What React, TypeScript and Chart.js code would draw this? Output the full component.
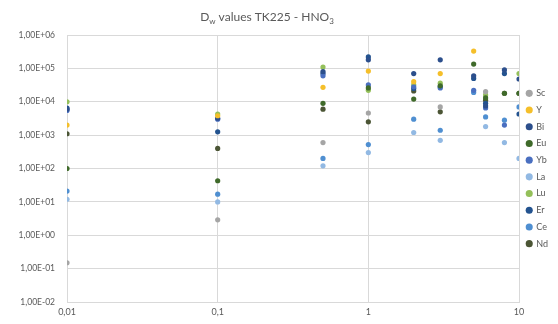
import React, { useEffect, useRef } from "react";
import { Chart, registerables } from "chart.js";

Chart.register(...registerables);

const xValues = [0.01, 0.1, 0.5, 1, 2, 3, 5, 6, 8, 10];

const seriesNames = ["Sc", "Y", "Bi", "Eu", "Yb", "La", "Lu", "Er", "Ce", "Nd"];
const seriesColors = ["#a5a5a5", "#f5bf2a", "#2c4f8c", "#3f6a2a", "#4a6fc0", "#92b9e3", "#94c05a", "#23538f", "#4f8fd1", "#4b5535"];

const scVals = [0.15, 2.9, 600, 4600, null, 7000, null, 20000, null, null];
const yVals = [2000, 3800, 27000, 83000, 40000, 70000, 330000, null, null, null];
const biVals = [6000, 3200, 80000, 180000, 70000, 180000, 60000, 7500, 90000, 48000];
const euVals = [100, 43, 9000, 26000, 12000, 30000, 135000, 13000, 18000, 18000];
const ybVals = [5500, 3000, 60000, 32000, 28000, 26000, 22000, 6500, 2000, null];
const laVals = [12, 10, 120, 300, 1200, 700, null, 1800, 600, 200];
const luVals = [10000, 4300, 110000, 22000, 32000, 36000, null, 16000, null, 70000];
const erVals = [6500, 1260, 70000, 220000, 25000, 28000, 50000, 9000, 70000, 4300];
const ceVals = [21, 17, 200, 520, 3000, 1400, 19000, 3500, 2800, 7000];
const ndVals = [1100, 400, 6000, 2500, 21000, 5000, null, 11000, 18000, 18000];

const allSeries = [scVals, yVals, biVals, euVals, ybVals, laVals, luVals, erVals, ceVals, ndVals];

const xTicks = [0.01, 0.1, 1, 10];
const yTicks = [1e-2, 1e-1, 1, 1e1, 1e2, 1e3, 1e4, 1e5, 1e6];

const FONT = "Lato, 'Open Sans', sans-serif";
const TEXT = "#595959";

function fmtExp(v: number): string {
  const e = Math.round(Math.log10(v));
  const sign = e < 0 ? "-" : "+";
  const a = Math.abs(e);
  return "1,00E" + sign + (a < 10 ? "0" + a : "" + a);
}

function fmtX(v: number): string {
  return String(v).replace(".", ",");
}

const titlePlugin = {
  id: "subTitle",
  afterDraw(chart: any) {
    const ctx = chart.ctx;
    const parts: [string, boolean][] = [
      ["D", false],
      ["w", true],
      [" values TK225 - HNO", false],
      ["3", true],
    ];
    const big = "12px " + FONT;
    const small = "8px " + FONT;
    ctx.save();
    let total = 0;
    for (const [t, s] of parts) {
      ctx.font = s ? small : big;
      total += ctx.measureText(t).width;
    }
    let x = 267 - total / 2;
    const y = 17;
    ctx.fillStyle = TEXT;
    ctx.textBaseline = "middle";
    ctx.textAlign = "left";
    for (const [t, s] of parts) {
      ctx.font = s ? small : big;
      ctx.fillText(t, x, s ? y + 4 : y);
      x += ctx.measureText(t).width;
    }
    ctx.restore();
  },
};

export default function App() {
  const ref = useRef<HTMLCanvasElement | null>(null);

  useEffect(() => {
    document.body.style.margin = "0";
    document.body.style.background = "#ffffff";
    if (!ref.current) return;
    const datasets = seriesNames.map((name, i) => ({
      label: name,
      data: xValues
        .map((x, j) => ({ x, y: allSeries[i][j] }))
        .filter((p) => p.y !== null) as { x: number; y: number }[],
      backgroundColor: seriesColors[i],
      borderColor: seriesColors[i],
      pointRadius: 2.6,
      pointBorderWidth: 0,
      showLine: false,
    }));
    const chart = new Chart(ref.current, {
      type: "scatter",
      data: { datasets },
      plugins: [titlePlugin],
      options: {
        animation: false,
        responsive: true,
        maintainAspectRatio: false,
        layout: { padding: { top: 35, left: 0, right: 0, bottom: 0 } },
        plugins: {
          title: { display: false },
          tooltip: { enabled: false },
          legend: {
            display: true,
            position: "right",
            fullSize: false,
            labels: {
              usePointStyle: true,
              pointStyle: "circle",
              boxWidth: 5,
              boxHeight: 5,
              padding: 7.7,
              color: TEXT,
              font: { family: FONT, size: 9 },
            },
          },
        },
        scales: {
          x: {
            type: "logarithmic",
            min: 0.01,
            max: 10,
            afterBuildTicks: (s: any) => {
              s.ticks = xTicks.map((v) => ({ value: v }));
            },
            afterFit: (s: any) => {
              s.height = 22;
            },
            ticks: {
              callback: (v: any) => fmtX(Number(v)),
              color: TEXT,
              font: { family: FONT, size: 9 },
              padding: 5,
              maxRotation: 0,
              autoSkip: false,
            },
            grid: { color: "#d9d9d9", drawTicks: false },
            border: { color: "#d9d9d9" },
          },
          y: {
            type: "logarithmic",
            min: 1e-2,
            max: 1e6,
            afterBuildTicks: (s: any) => {
              s.ticks = yTicks.map((v) => ({ value: v }));
            },
            afterFit: (s: any) => {
              s.width = 67;
            },
            ticks: {
              callback: (v: any) => fmtExp(Number(v)),
              color: TEXT,
              font: { family: FONT, size: 8.5 },
              padding: 12,
              autoSkip: false,
            },
            grid: { color: "#d9d9d9", drawTicks: false },
            border: { color: "#d9d9d9" },
          },
        },
      },
    } as any);
    return () => chart.destroy();
  }, []);

  return (
    <div style={{ width: 558, height: 324, position: "relative" }}>
      <canvas ref={ref} />
    </div>
  );
}
